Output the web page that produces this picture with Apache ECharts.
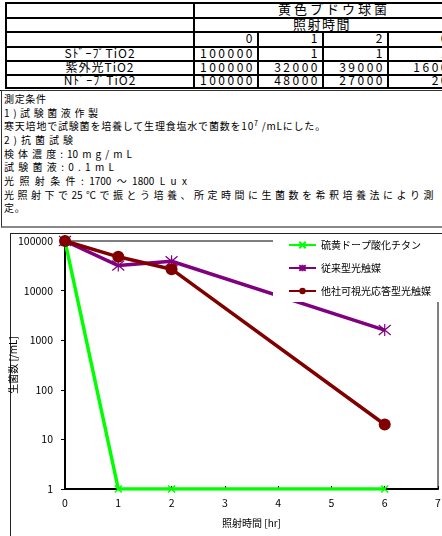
<!DOCTYPE html>
<html>
<head>
<meta charset="utf-8">
<script src="https://cdn.jsdelivr.net/npm/echarts@6/dist/echarts.min.js"></script>
<style>
  html, body { margin: 0; padding: 0; background: #fff; }
  body { width: 442px; height: 536px; position: relative; overflow: hidden; font-family: "Noto Sans CJK JP", sans-serif; color: #000; }
  #frame { position: absolute; left: 10px; top: 233px; width: 460px; height: 320px; border-left: 1px solid #222; border-top: 1px solid #222; z-index: 0; }
  #chart { position: absolute; left: 0; top: 0; width: 442px; height: 536px; z-index: 1; }
  #table { position: absolute; left: 0; top: 0; width: 442px; height: 92px; background: #fff; z-index: 5; }
  .ln { position: absolute; background: #000; }
  .cell { position: absolute; font-size: 12px; line-height: 14px; white-space: nowrap; }
  #note { position: absolute; left: 1px; top: 90px; width: 460px; height: 138px; box-sizing: border-box; z-index: 5;
    border: 1px solid #333; border-bottom: 2px solid #888; background: #fff; }
  .nl { position: absolute; left: 2px; height: 14px; font-size: 10px; line-height: 14px; letter-spacing: 0.8px; white-space: pre; }
  .nl.fit { display: flex; justify-content: space-between; letter-spacing: 0; }
  .nl sup { font-size: 7px; position: relative; top: -1px; vertical-align: top; line-height: 10px; }
</style>
</head>
<body>
<div id="frame"></div>
<div id="chart"></div>
<div id="table"></div>
<div id="note"></div>
<script>
// 照射時間 [hr]
const timePoints = [0, 1, 2, 6];
// 生菌数 [/mL]
const sDoped = [100000, 1, 1, 1];
const uvTiO2 = [100000, 32000, 39000, 1600];
const nDoped = [100000, 48000, 27000, 20];
const rowNames = ['SﾄﾞｰﾌﾟTiO2', '紫外光TiO2', 'NﾄﾞｰﾌﾟTiO2'];
const seriesNames = ['硫黄ドープ酸化チタン', '従来型光触媒', '他社可視光応答型光触媒'];

// 測定条件（行ごとの文字列と、参考画像での行幅）
const noteLines = [
  ['測定条件', 42],
  ['1)試験菌液作製', 94],
  [null, 0],
  ['2)抗菌試験', 69],
  ['検体濃度 : 10 mg/mL', 128],
  ['試験菌液 : 0.1 mL', 110],
  ['光照射条件 : 1700～1800 Lux', 183],
  ['光照射下で25℃で振とう培養、所定時間に生菌数を希釈培養法により測', 430],
  ['定。', 0],
];

const note = document.getElementById('note');
noteLines.forEach(([text, w], i) => {
  const d = document.createElement('div');
  d.className = 'nl';
  d.style.top = (1 + i * 13.65) + 'px';
  if (text === null) {
    d.innerHTML = '寒天培地で試験菌を培養して生理食塩水で菌数を10<sup>7</sup> /mLにした。';
  } else if (w > 0) {
    d.classList.add('fit');
    d.style.width = w + 'px';
    // 数字の並びはまとめ、他は1文字ずつ均等に配置
    text.match(/[0-9]+|\s+|./g).filter(t => t.trim() !== '').forEach(t => {
      const s = document.createElement('span');
      s.textContent = t;
      d.appendChild(s);
    });
  } else {
    d.textContent = text;
  }
  note.appendChild(d);
});

// ---- 表 ----
const table = document.getElementById('table');
const colX = [6, 194, 258, 323, 388, 453];
const rowY = [3, 18, 32, 47, 61, 75, 88];

function line(x, y, w, h) {
  const d = document.createElement('div');
  d.className = 'ln';
  d.style.cssText = `left:${x}px;top:${y}px;width:${w}px;height:${h}px`;
  table.appendChild(d);
}
function cell(text, y0, y1, opt) {
  const d = document.createElement('div');
  d.className = 'cell';
  d.textContent = text;
  d.style.top = ((y0 + y1) / 2 - 8.5) + 'px';
  if (opt.right != null) { d.style.right = (442 - opt.right) + 'px'; }
  if (opt.center != null) { d.style.left = (opt.center - 200) + 'px'; d.style.width = '400px'; d.style.textAlign = 'center'; }
  if (opt.ls != null) { d.style.letterSpacing = opt.ls + 'px'; }
  if (opt.fs != null) { d.style.fontSize = opt.fs + 'px'; }
  table.appendChild(d);
}

rowY.forEach(y => line(colX[0], y - 1, 442 - colX[0], 2));
line(colX[0] - 1, rowY[0] - 1, 2, rowY[6] - rowY[0] + 2);
line(colX[1] - 1, rowY[0] - 1, 2, rowY[6] - rowY[0] + 2);
for (let c = 2; c < 5; c++) line(colX[c] - 1, rowY[2], 2, rowY[6] - rowY[2]);
line(0, 90, 442, 1);

cell('黄色ブドウ球菌', rowY[0], rowY[1], { center: 334, ls: 3, fs: 13 });
cell('照射時間', rowY[1], rowY[2], { center: 322, ls: 1.5, fs: 13 });
timePoints.forEach((t, i) => cell(String(t), rowY[2], rowY[3], { right: colX[i + 2] - 3, ls: 2.5 }));
[sDoped, uvTiO2, nDoped].forEach((vals, r) => {
  cell(rowNames[r], rowY[r + 3], rowY[r + 4], { center: (colX[0] + colX[1]) / 2, ls: 1 });
  vals.forEach((v, i) => cell(String(v), rowY[r + 3], rowY[r + 4], { right: colX[i + 2] - 3, ls: 2.5 }));
});

// ---- グラフ ----
const toPairs = (vals) => timePoints.map((t, i) => [t, vals[i]]);
const xMark = 'path://M0,0L10,10M10,0L0,10';
const starMark = 'path://M0,0L10,10M10,0L0,10M5,-1L5,11';

const chart = echarts.init(document.getElementById('chart'));
chart.setOption({
  animation: false,
  textStyle: { fontFamily: 'Noto Sans CJK JP' },
  grid: {
    left: 65, right: 4, top: 241, bottom: 47,
    outerBoundsMode: 'none',
    containLabel: false,
    show: true, borderColor: '#000', borderWidth: 1,
  },
  legend: {
    orient: 'vertical',
    left: 273,
    top: 236,
    padding: [4, 40, 6, 15],
    itemWidth: 27,
    itemHeight: 8,
    itemGap: 13,
    backgroundColor: '#fff',
    textStyle: { fontSize: 10, color: '#000' },
    data: seriesNames,
  },
  xAxis: {
    type: 'value',
    min: 0,
    max: 7,
    interval: 1,
    name: '照射時間 [hr]',
    nameLocation: 'middle',
    nameGap: 29,
    nameMoveOverlap: false,
    nameTextStyle: { fontSize: 10, color: '#000' },
    axisLine: { lineStyle: { color: '#000', width: 2 } },
    axisTick: { inside: true, length: 3, lineStyle: { color: '#000' } },
    axisLabel: { fontSize: 10.5, color: '#000', margin: 9 },
    splitLine: { show: false },
  },
  yAxis: {
    type: 'log',
    logBase: 10,
    min: 1,
    max: 100000,
    name: '生菌数 [/mL]',
    nameLocation: 'middle',
    nameRotate: 90,
    nameGap: 47,
    nameMoveOverlap: false,
    nameTextStyle: { fontSize: 10, color: '#000' },
    axisLine: { show: true, lineStyle: { color: '#000', width: 2 } },
    axisTick: { show: true, length: 4, lineStyle: { color: '#000' } },
    axisLabel: { fontSize: 10.5, color: '#000', margin: 12, formatter: (v) => String(Math.round(v)) },
    splitLine: { show: false },
  },
  series: [
    {
      name: seriesNames[0],
      type: 'line',
      data: toPairs(sDoped),
      symbol: xMark,
      symbolSize: 7,
      lineStyle: { color: '#00FF00', width: 3.5 },
      itemStyle: { color: '#00FF00', borderColor: '#00FF00', borderWidth: 1.5 },
    },
    {
      name: seriesNames[1],
      type: 'line',
      data: toPairs(uvTiO2),
      symbol: starMark,
      symbolSize: 12,
      lineStyle: { color: '#800080', width: 3.5 },
      itemStyle: { color: '#800080', borderColor: '#800080', borderWidth: 1.2 },
    },
    {
      name: seriesNames[2],
      type: 'line',
      data: toPairs(nDoped),
      symbol: 'circle',
      symbolSize: 12,
      lineStyle: { color: '#800000', width: 3.5 },
      itemStyle: { color: '#800000', borderColor: '#800000', borderWidth: 0 },
    },
  ],
});
</script>
</body>
</html>
